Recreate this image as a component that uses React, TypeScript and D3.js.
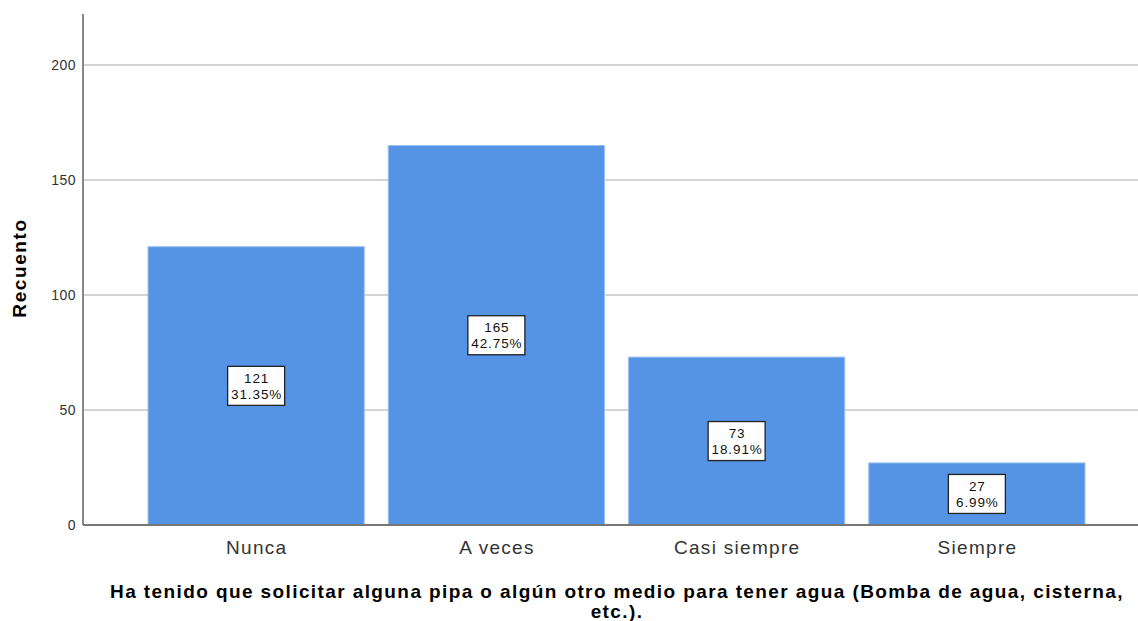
import React from "react";
import * as d3 from "d3";

const categories = ["Nunca", "A veces", "Casi siempre", "Siempre"];
const counts = [121, 165, 73, 27];
const percents = ["31.35%", "42.75%", "18.91%", "6.99%"];
const yTicks = [0, 50, 100, 150, 200];
const yTitle = "Recuento";
const xTitleLines = [
  "Ha tenido que solicitar alguna pipa o algún otro medio para tener agua (Bomba de agua, cisterna,",
  "etc.).",
];

const W = 1138;
const H = 621;
const axisX = 83;
const baseY = 525;
const topY = 14;

export default function App() {
  const y = d3.scaleLinear().domain([0, 200]).range([baseY, 65]);
  const yMax = y.invert(topY);
  const x = d3
    .scaleBand<string>()
    .domain(categories)
    .range([136, 1097])
    .paddingInner(0.1)
    .paddingOuter(0.05);
  const font = "'Liberation Sans', Arial, sans-serif";
  return (
    <svg
      width={W}
      height={H}
      style={{ position: "absolute", left: 0, top: 0, background: "#fff" }}
      fontFamily={font}
    >
      {yTicks
        .filter((t) => t > 0)
        .map((t) => (
          <line key={"g" + t} x1={axisX} x2={W} y1={y(t)} y2={y(t)} stroke="#d4d4d4" strokeWidth={2} />
        ))}
      {categories.map((c, i) => (
        <rect
          key={c}
          x={x(c)!}
          y={y(counts[i])}
          width={x.bandwidth()}
          height={baseY - y(counts[i])}
          fill="#5594e4"
          stroke="#9cc0ee"
          strokeWidth={1}
        />
      ))}
      <line x1={axisX} x2={axisX} y1={y(yMax)} y2={baseY} stroke="#888" strokeWidth={2} />
      <line x1={axisX} x2={W} y1={baseY} y2={baseY} stroke="#777" strokeWidth={2} />
      {yTicks.map((t) => (
        <text key={"t" + t} x={axisX - 7} y={y(t)} dy="0.35em" textAnchor="end" fontSize={14} letterSpacing={0.5} fill="#333">
          {t}
        </text>
      ))}
      {categories.map((c, i) => {
        const cx = x(c)! + x.bandwidth() / 2;
        const cy = y(counts[i] / 2);
        return (
          <g key={"l" + c}>
            <text x={cx + 0.6} y={554} textAnchor="middle" fontSize={19} letterSpacing={1.3} fill="#333">
              {c}
            </text>
            <rect x={cx - 28.5} y={cy - 19.5} width={57} height={39} fill="#fff" stroke="#222" strokeWidth={1.3} />
            <text x={cx + 0.5} y={cy - 3} textAnchor="middle" fontSize={13.5} letterSpacing={0.9} fill="#111">
              {counts[i]}
            </text>
            <text x={cx + 0.5} y={cy + 13} textAnchor="middle" fontSize={13.5} letterSpacing={0.9} fill="#111">
              {percents[i]}
            </text>
          </g>
        );
      })}
      <text
        transform={`translate(26, 268) rotate(-90)`}
        textAnchor="middle"
        fontSize={19}
        fontWeight="bold"
        letterSpacing={1.6}
        fill="#000"
      >
        {yTitle}
      </text>
      {xTitleLines.map((l, i) => (
        <text key={"x" + i} x={617} y={598 + i * 20} textAnchor="middle" fontSize={19} fontWeight="bold" letterSpacing={1.4} fill="#000">
          {l}
        </text>
      ))}
    </svg>
  );
}
